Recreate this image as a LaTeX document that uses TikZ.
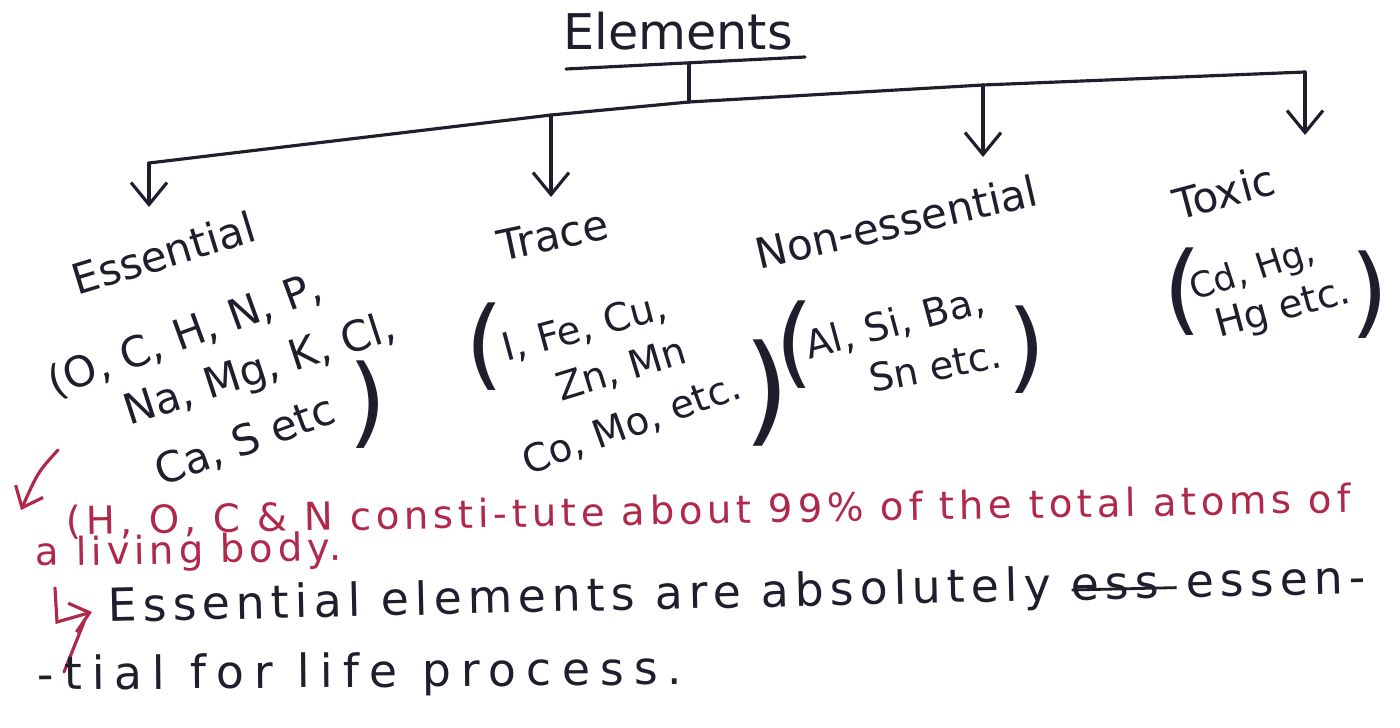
\documentclass[tikz,border=0pt]{standalone}
\usepackage{fontspec}
\setmainfont{DejaVu Sans}
\usetikzlibrary{arrows.meta}
\definecolor{ink}{HTML}{1E1E2C}
\definecolor{redink}{HTML}{B0284A}
\newcommand\crossout[1]{\leavevmode\setbox0\hbox{#1}\rlap{\rule[0.35ex]{1.2\wd0}{0.8pt}}\box0}
\tikzstyle{lbl} = [inner sep=0pt, anchor=base, text=ink, font=\fontsize{12}{14}\selectfont]
\tikzstyle{small} = [font=\fontsize{11}{13}\selectfont]
\tikzstyle{bigpar} = [inner sep=0pt, anchor=center, text=ink, font=\fontsize{28}{28}\selectfont]
\tikzstyle{note} = [inner sep=0pt, anchor=base west, text=redink, font={\fontsize{11}{13}\selectfont\addfontfeature{LetterSpace=12}}]
\tikzstyle{blacknote} = [inner sep=0pt, anchor=base west, text=ink, font={\fontsize{13}{16}\selectfont\addfontfeature{LetterSpace=13}}]
\tikzstyle{line} = [ink, line width=0.9pt, line cap=round, line join=round]
\tikzstyle{arr} = [line, -{Straight Barb[length=2.2mm,width=3.6mm]}]
\tikzstyle{redarr} = [redink, line width=0.9pt, line cap=round, -{Straight Barb[length=1.8mm,width=3mm]}]

\begin{document}
\begin{tikzpicture}[x=0.1mm,y=-0.1mm]
\useasboundingbox (0,0) rectangle (1400,727);

\node[lbl, font=\fontsize{14}{17}\selectfont] (elements) at (678,50) {Elements};
\draw[line] (566,69) -- (805,57);

\coordinate (ul) at (689,64);
\coordinate (jl) at (149,163);
\coordinate (jt) at (551,115);
\coordinate (jm) at (689,102);
\coordinate (jn) at (983,85);
\coordinate (jr) at (1305,72);
\coordinate (tipE) at (149,207);
\coordinate (tipT) at (551,197);
\coordinate (tipN) at (983,157);
\coordinate (tipX) at (1305,135);

\draw[line] (ul) -- (jm);
\draw[line] (jl) -- (jt) -- (jm) -- (jn) -- (jr);
\draw[arr] (jl) -- (tipE);
\draw[arr] (jt) -- (tipT);
\draw[arr] (jn) -- (tipN);
\draw[arr] (jr) -- (tipX);

% essential
\node[lbl, rotate=17] (essential) at (168,268) {Essential};
\node[lbl, rotate=20] (ess1) at (190,348) {(O, C, H, N, P,};
\node[lbl, rotate=18] (ess2) at (264,382) {Na, Mg, K, Cl,};
\node[lbl, rotate=20] (ess3) at (250,454) {Ca, S etc};
\node[bigpar] (essclose) at (368,405) {)};

% trace
\node[lbl, rotate=12] (trace) at (556,250) {Trace};
\node[bigpar] (traceopen) at (485,347) {(};
\node[lbl, small, rotate=15] (trace1) at (588,340) {I, Fe, Cu,};
\node[lbl, small, rotate=17] (trace2) at (625,382) {Zn, Mn};
\node[lbl, small, rotate=20] (trace3) at (636,436) {Co, Mo, etc.};
\node[bigpar, font=\fontsize{34}{34}\selectfont] (traceclose) at (767,393) {)};

% non-essential
\node[lbl, rotate=13] (nonessential) at (900,237) {Non-essential};
\node[bigpar] (nonopen) at (795,345) {(};
\node[lbl, small, rotate=15] (non1) at (898,336) {Al, Si, Ba,};
\node[lbl, small, rotate=11] (non2) at (938,380) {Sn etc.};
\node[bigpar] (nonclose) at (1027,350) {)};

% toxic
\node[lbl, rotate=15] (toxic) at (1228,207) {Toxic};
\node[bigpar] (toxopen) at (1183,292) {(};
\node[lbl, font=\fontsize{10}{12}\selectfont, rotate=18] (tox1) at (1256,281) {Cd, Hg,};
\node[lbl, small, rotate=15] (tox2) at (1286,320) {Hg etc.};
\node[bigpar] (toxclose) at (1370,295) {)};

% notes
\draw[redarr] (58,450) .. controls (38,472) .. (21,510);
\node[note, rotate=1] (red1) at (66,535) {(H, O, C \& N consti-tute about 99\% of the total atoms of};
\node[note, rotate=1] (red2) at (35,566) {a living body.};
\draw[redarr] (55,588) -- (57,622) -- (92,612);
\draw[redink, line width=0.9pt, line cap=round] (84,622) -- (64,672);
\node[blacknote, rotate=1.3] (black1) at (108,622) {Essential elements are absolutely \crossout{ess}\hspace{0.6em}essen-};
\node[blacknote, rotate=0.5, font={\fontsize{13}{16}\selectfont\addfontfeature{LetterSpace=22}}] (black2) at (37,690) {-tial for life process.};
\end{tikzpicture}
\end{document}
